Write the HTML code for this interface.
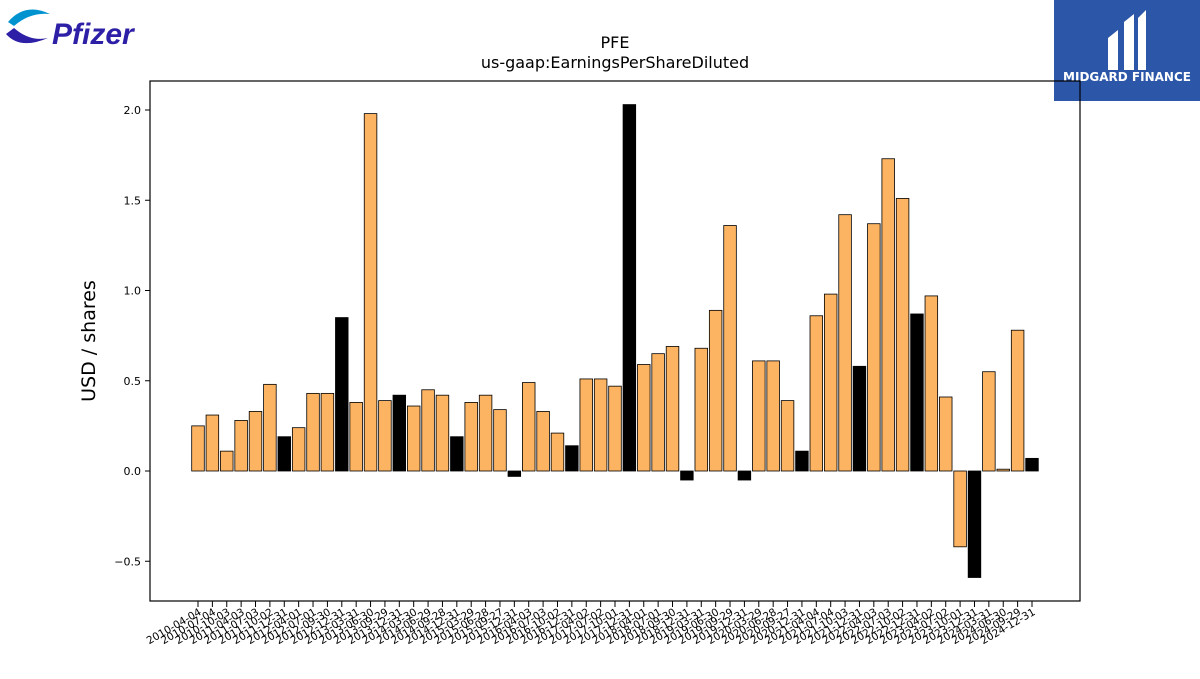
<!DOCTYPE html>
<html><head><meta charset="utf-8"><style>
body{margin:0;background:#fff;width:1200px;height:675px;overflow:hidden;font-family:"DejaVu Sans","Liberation Sans",sans-serif}
</style></head><body>
<svg width="1200" height="675" id="chart" xmlns="http://www.w3.org/2000/svg">
<g>
<path d="M8,22 Q25,2 50,14 Q30,12 14,26 Z" fill="#0093d0"/>
<path d="M6,34 Q20,50 48,38 Q30,42 14,28 Z" fill="#2d1fa6"/>
<text x="52" y="44" font-size="30" font-style="italic" font-weight="bold" fill="#2d1fa6" font-family="Liberation Sans,sans-serif">Pfizer</text>
</g>
<g>
<rect x="1054" y="0" width="146" height="101" fill="#2c57a9"/>
<path d="M1108,70 L1108,38 L1118,30 L1118,70 Z M1124,70 L1124,22 L1134,14 L1134,70 Z M1138,70 L1138,18 L1146,10 L1146,70 Z" fill="#fff"/>
<text x="1127" y="81" font-size="12" font-weight="bold" fill="#fff" text-anchor="middle">MIDGARD FINANCE</text>
</g>
<text x="615" y="48" font-size="16" text-anchor="middle">PFE</text>
<text x="615" y="68" font-size="16" text-anchor="middle">us-gaap:EarningsPerShareDiluted</text>
<text transform="translate(95,341) rotate(-90)" font-size="19" text-anchor="middle">USD / shares</text>
<g id="marks"></g>
<rect x="150" y="81" width="930" height="520" fill="none" stroke="#000" stroke-width="1.2"/>
</svg>
<script>
const labels=["2010-04-04","2010-07-04","2010-10-03","2011-04-03","2011-07-03","2011-10-02","2011-12-31","2012-04-01","2012-07-01","2012-09-30","2012-12-31","2013-03-31","2013-06-30","2013-09-29","2013-12-31","2014-03-30","2014-06-29","2014-09-28","2014-12-31","2015-03-29","2015-06-28","2015-09-27","2015-12-31","2016-04-03","2016-07-03","2016-10-02","2016-12-31","2017-04-02","2017-07-02","2017-10-01","2017-12-31","2018-04-01","2018-07-01","2018-09-30","2018-12-31","2019-03-31","2019-06-30","2019-09-29","2019-12-31","2020-03-29","2020-06-28","2020-09-27","2020-12-31","2021-04-04","2021-07-04","2021-10-03","2021-12-31","2022-04-03","2022-07-03","2022-10-02","2022-12-31","2023-04-02","2023-07-02","2023-10-01","2023-12-31","2024-03-31","2024-06-30","2024-09-29","2024-12-31"];
const values=[0.25,0.31,0.11,0.28,0.33,0.48,0.19,0.24,0.43,0.43,0.85,0.38,1.98,0.39,0.42,0.36,0.45,0.42,0.19,0.38,0.42,0.34,-0.03,0.49,0.33,0.21,0.14,0.51,0.51,0.47,2.03,0.59,0.65,0.69,-0.05,0.68,0.89,1.36,-0.05,0.61,0.61,0.39,0.11,0.86,0.98,1.42,0.58,1.37,1.73,1.51,0.87,0.97,0.41,-0.42,-0.59,0.55,0.01,0.78,0.07];
const annual=[0,0,0,0,0,0,1,0,0,0,1,0,0,0,1,0,0,0,1,0,0,0,1,0,0,0,1,0,0,0,1,0,0,0,1,0,0,0,1,0,0,0,1,0,0,0,1,0,0,0,1,0,0,0,1,0,0,0,1];
const yTicks=[-0.5,0,0.5,1.0,1.5,2.0];
const yTickLabels=["\u22120.5","0.0","0.5","1.0","1.5","2.0"];
const NS="http://www.w3.org/2000/svg";
const g=document.getElementById('marks');
const y=v=>471-v*180.5;
const x=i=>198+i*(1032-198)/(labels.length-1);
function mk(t,a){const e=document.createElementNS(NS,t);for(const k in a)e.setAttribute(k,a[k]);g.appendChild(e);return e;}
yTicks.forEach((t,i)=>{
 const l=mk('line',{x1:145,x2:150,y1:y(t),y2:y(t),stroke:'#000'});
 
 
 const tx=mk('text',{x:141,y:y(t)+4,'font-size':11,'text-anchor':'end'});
 tx.textContent=yTickLabels[i];
 
 
});
values.forEach((v,i)=>{
 const w=12.6;
 const r=mk('rect',{x:x(i)-w/2,y:Math.min(y(v),y(0)),width:w,height:Math.abs(y(v)-y(0)),fill:annual[i]?'#000':'#fdb462',stroke:'#000','stroke-width':0.8});
 
 
 const tk=mk('line',{x1:x(i),x2:x(i),y1:601,y2:607,stroke:'#000'});
 
 
 const t=mk('text',{x:0,y:0,'font-size':10.5,'text-anchor':'end',transform:`translate(${x(i)+4},${614}) rotate(-30)`});
 t.textContent=labels[i];
 
 
});
</script>
</body></html>
